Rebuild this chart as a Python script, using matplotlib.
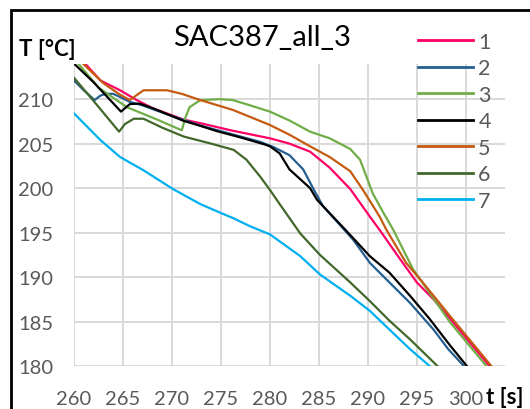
import matplotlib
matplotlib.use("Agg")
import matplotlib.pyplot as plt
from matplotlib.patches import Rectangle

plt.rcParams['font.family'] = ['Lato', 'DejaVu Sans']

# Cooling curves: time [s] and temperature [°C] for each sample
t1 = [260, 261.3, 262.7, 264.7, 266.4, 268, 271.2, 272.9, 276, 280, 282, 284.1, 286.1, 288.2, 290.2, 291.2, 293.3, 295, 296.7, 298.4, 302.4]
T1 = [215.0, 213.8, 212.1, 211.0, 209.9, 209.0, 207.7, 207.3, 206.5, 205.6, 205.0, 204.1, 202.3, 199.9, 196.8, 195.3, 192.0, 189.4, 187.5, 185.3, 180.0]

t2 = [260, 261, 262.1, 262.7, 263.2, 264, 264.8, 265.7, 267, 270, 273, 276, 279, 280.4, 282, 283.4, 284.4, 285.4, 288.5, 290.2, 292.2, 294.3, 296.7, 298.2, 299.8]
T2 = [212.1, 211.0, 209.9, 210.4, 210.6, 210.6, 210.2, 209.7, 209.3, 208.1, 207.0, 206.1, 205.2, 204.6, 203.7, 202.1, 200.0, 198.0, 194.2, 191.6, 189.4, 187.1, 184.1, 181.9, 180.0]

t3 = [260, 260.6, 262.5, 265.4, 268.5, 271.0, 271.4, 271.8, 272.9, 274.9, 276.2, 278, 280, 282, 284.1, 286.1, 288.2, 289.2, 290.5, 291.6, 292.6, 294.6, 298.4, 302.1]
T3 = [214.5, 213.8, 211.3, 209.1, 207.7, 206.5, 208.0, 209.1, 209.9, 210.0, 209.9, 209.3, 208.6, 207.6, 206.35, 205.6, 204.4, 203.2, 199.4, 197.2, 195.3, 190.9, 184.9, 180.0]

t4 = [260, 262, 264.8, 265.7, 266.7, 268, 271.1, 272.9, 274.6, 277, 279.5, 280, 281, 282, 284.1, 284.8, 287.8, 290.2, 292.2, 294.3, 296.3, 298.4, 300.1]
T4 = [214.0, 211.9, 208.6, 209.45, 209.5, 209.0, 207.6, 207.0, 206.4, 205.7, 204.9, 204.7, 203.9, 202.1, 200.0, 198.7, 195.2, 192.35, 190.5, 187.9, 185.3, 182.3, 180.0]

t5 = [260, 261.1, 263, 264.7, 265.7, 266.2, 267.1, 269.5, 271, 272.9, 276.2, 280, 282, 284.1, 286.1, 288.2, 289.5, 291.2, 291.9, 293.9, 295.6, 298.4, 302.6]
T5 = [215.0, 213.8, 211.8, 210.5, 209.9, 210.3, 211.0, 211.0, 210.6, 209.9, 208.8, 207.1, 206.0, 204.7, 203.5, 201.9, 199.8, 196.8, 195.3, 191.6, 189.4, 185.6, 180.0]

t6 = [260, 262, 264.6, 265.2, 266.1, 267.1, 269, 271.2, 274, 276.3, 277.6, 279, 280, 281, 283.1, 285.1, 288.2, 290.2, 292.2, 294.3, 297.1]
T6 = [212.4, 209.8, 206.35, 207.2, 207.8, 207.8, 206.8, 205.8, 205.0, 204.3, 203.2, 201.3, 199.8, 198.2, 194.9, 192.5, 189.4, 187.3, 185.1, 183.0, 180.0]

t7 = [260, 262.7, 264.7, 267.1, 270.1, 272.9, 275, 276.2, 278, 280, 283.1, 285.1, 288.2, 290.2, 292.2, 294.3, 296.3]
T7 = [208.4, 205.4, 203.5, 202.0, 199.9, 198.2, 197.2, 196.65, 195.7, 194.8, 192.35, 190.3, 187.9, 186.2, 184.1, 181.9, 180.0]

labels = ["1", "2", "3", "4", "5", "6", "7"]
colors = ["#FF0066", "#255E91", "#70AD47", "#000000", "#C55A11", "#43682B", "#00B0F0"]
series = [(t1, T1), (t2, T2), (t3, T3), (t4, T4), (t5, T5), (t6, T6), (t7, T7)]

x_ticks = [260, 265, 270, 275, 280, 285, 290, 295, 300]
y_ticks = [180, 185, 190, 195, 200, 205, 210]

W, H = 530, 410
fig = plt.figure(figsize=(W / 100, H / 100), dpi=100)

# chart frame
fig.patches.append(Rectangle((11 / W, -0.1), 1.2, 1 - 11 / H + 0.1, transform=fig.transFigure,
                             fill=False, edgecolor="black", linewidth=2.0))

ax = fig.add_axes([74 / W, 1 - 367 / H, (505 - 74) / W, (367 - 64.6) / H])
for (t, T), lab, c in zip(series, labels, colors):
    ax.plot(t, T, color=c, linewidth=1.6, label=lab)

ax.set_xlim(260, 304)
ax.set_ylim(180, 214)
ax.set_xticks(x_ticks)
ax.set_yticks(y_ticks)
ax.grid(True, color="#D9D9D9", linewidth=1.4)
ax.set_axisbelow(True)
for s in ax.spines.values():
    s.set_visible(False)
ax.tick_params(length=0, labelsize=14.5, labelcolor="#595959")
ax.tick_params(axis="x", pad=17)
ax.tick_params(axis="y", pad=15)

fig.text(262 / W, 1 - 38 / H, "SAC387_all_3", ha="center", va="center", fontsize=21, color="#000000")
fig.text(19 / W, 1 - 50 / H, "T [°C]", ha="left", va="center", fontsize=16, fontweight="bold")
fig.text(486 / W, 1 - 398 / H, "t [s]", ha="left", va="center", fontsize=16, fontweight="bold")

leg = ax.legend(loc="upper left", bbox_to_anchor=(418 / W, 1 - 33 / H), bbox_transform=fig.transFigure,
                frameon=False, fontsize=15.5, handlelength=2.55, handletextpad=0.25, labelspacing=0.3,
                borderaxespad=0, borderpad=0)
for txt in leg.get_texts():
    txt.set_color("#595959")
for ln in leg.get_lines():
    ln.set_linewidth(2.0)

fig.savefig("out.png", dpi=100)
